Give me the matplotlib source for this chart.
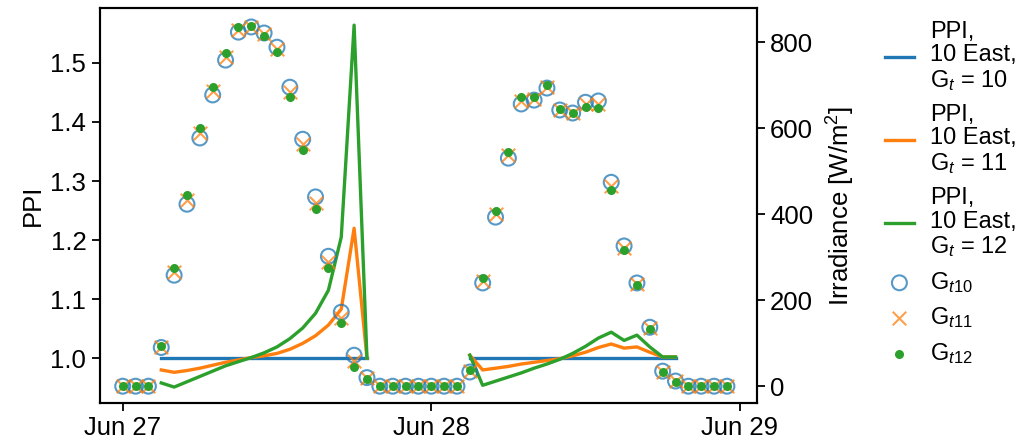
import numpy as np
import pandas as pd
import matplotlib
matplotlib.use("Agg")
import matplotlib.pyplot as plt
import matplotlib.dates as mdates

plt.rcParams['font.family'] = ['Liberation Sans', 'DejaVu Sans']
plt.rcParams['mathtext.fontset'] = 'custom'
plt.rcParams['mathtext.rm'] = 'Liberation Sans'
plt.rcParams['mathtext.it'] = 'Liberation Sans:italic'
plt.rcParams['font.size'] = 18.5

nan = np.nan
times = pd.date_range("2021-06-27 00:00", periods=48, freq="h")

# PPI, 10 East (hours 3..19 of each day)
ppi_gt10 = [nan]*3 + [1.0]*17 + [nan]*7 + [1.0]*17 + [nan]*4
ppi_gt11 = ([nan]*3 +
            [0.980, 0.976, 0.979, 0.983, 0.988, 0.993, 0.997, 1.001, 1.004,
             1.008, 1.015, 1.025, 1.038, 1.056, 1.083, 1.220, 1.000] +
            [nan]*7 +
            [1.005, 0.980, 0.983, 0.986, 0.990, 0.993, 0.996, 0.999, 1.004,
             1.010, 1.018, 1.024, 1.017, 1.019, 1.010, 1.002, 1.002] +
            [nan]*4)
ppi_gt12 = ([nan]*3 +
            [0.958, 0.951, 0.960, 0.969, 0.978, 0.987, 0.994, 1.001, 1.009,
             1.019, 1.033, 1.051, 1.076, 1.115, 1.205, 1.564, 1.000] +
            [nan]*7 +
            [1.005, 0.954, 0.961, 0.968, 0.975, 0.983, 0.990, 0.998, 1.008,
             1.020, 1.034, 1.044, 1.030, 1.039, 1.019, 1.002, 1.002] +
            [nan]*4)

# irradiance [W/m2]
g_t10 = [0, 0, 0, 90, 258, 423, 577, 677, 758, 823, 835, 821, 788, 695, 574, 440,
         302, 172, 72, 20, 0, 0, 0, 0,
         0, 0, 0, 33, 240, 393, 530, 656, 665, 693, 642, 635, 660, 663, 474, 326,
         240, 137, 35, 12, 0, 0, 0, 0]
g_t11 = [0, 0, 0, 92, 266, 433, 588, 686, 766, 829, 836, 818, 783, 684, 562, 426,
         288, 159, 58, 18, 0, 0, 0, 0,
         0, 0, 0, 35, 245, 400, 537, 664, 668, 696, 643, 635, 655, 655, 465, 321,
         238, 135, 34, 11, 0, 0, 0, 0]
g_t12 = [0, 0, 0, 94, 274, 444, 600, 695, 774, 835, 837, 814, 777, 672, 549, 412,
         274, 146, 44, 16, 0, 0, 0, 0,
         0, 0, 0, 38, 251, 407, 544, 672, 672, 700, 644, 635, 649, 647, 456, 316,
         235, 132, 33, 10, 0, 0, 0, 0]

fig = plt.figure(figsize=(10.16, 4.47), dpi=100)
ax = fig.add_axes([0.098, 0.098, 0.647, 0.884])
ax2 = ax.twinx()

l1, = ax.plot(times, ppi_gt10, color="C0", lw=2.4, label="PPI,\n10 East,\nG$_t$ = 10")
l2, = ax.plot(times, ppi_gt11, color="C1", lw=2.4, label="PPI,\n10 East,\nG$_t$ = 11")
l3, = ax.plot(times, ppi_gt12, color="C2", lw=2.4, label="PPI,\n10 East,\nG$_t$ = 12")

s1 = ax2.scatter(times, g_t10, s=115, facecolors="none", edgecolors="C0", linewidths=1.5,
                 alpha=0.75, label="G$_{t10}$")
s2 = ax2.scatter(times, g_t11, s=95, marker="x", color="C1", linewidths=1.5,
                 alpha=0.75, label="G$_{t11}$")
s3 = ax2.scatter(times, g_t12, s=30, color="C2", label="G$_{t12}$")

ax.set_ylim(0.9237, 1.593)
ax2.set_ylim(-39.5, 879)
ax.set_xlim(pd.Timestamp("2021-06-26 22:12"), pd.Timestamp("2021-06-29 01:20"))
ax.set_yticks([1.0, 1.1, 1.2, 1.3, 1.4, 1.5])
ax2.set_yticks([0, 200, 400, 600, 800])
ax.xaxis.set_major_locator(mdates.DayLocator())
ax.xaxis.set_major_formatter(mdates.DateFormatter("%b %d"))

ax.set_ylabel("PPI", labelpad=4)
ax2.set_ylabel("Irradiance [W/m$^2$]", labelpad=8)

for a in (ax, ax2):
    for sp in a.spines.values():
        sp.set_linewidth(1.5)
    a.tick_params(width=1.3, length=6)

leg = fig.legend(handles=[l1, l2, l3, s1, s2, s3], loc="upper left",
                 bbox_to_anchor=(0.862, 0.975), frameon=False, fontsize=17,
                 handlelength=1.2, handletextpad=0.7, labelspacing=0.45,
                 borderaxespad=0)
for t in leg.get_texts():
    t.set_linespacing(1.1)

fig.savefig("out.png", dpi=100)
